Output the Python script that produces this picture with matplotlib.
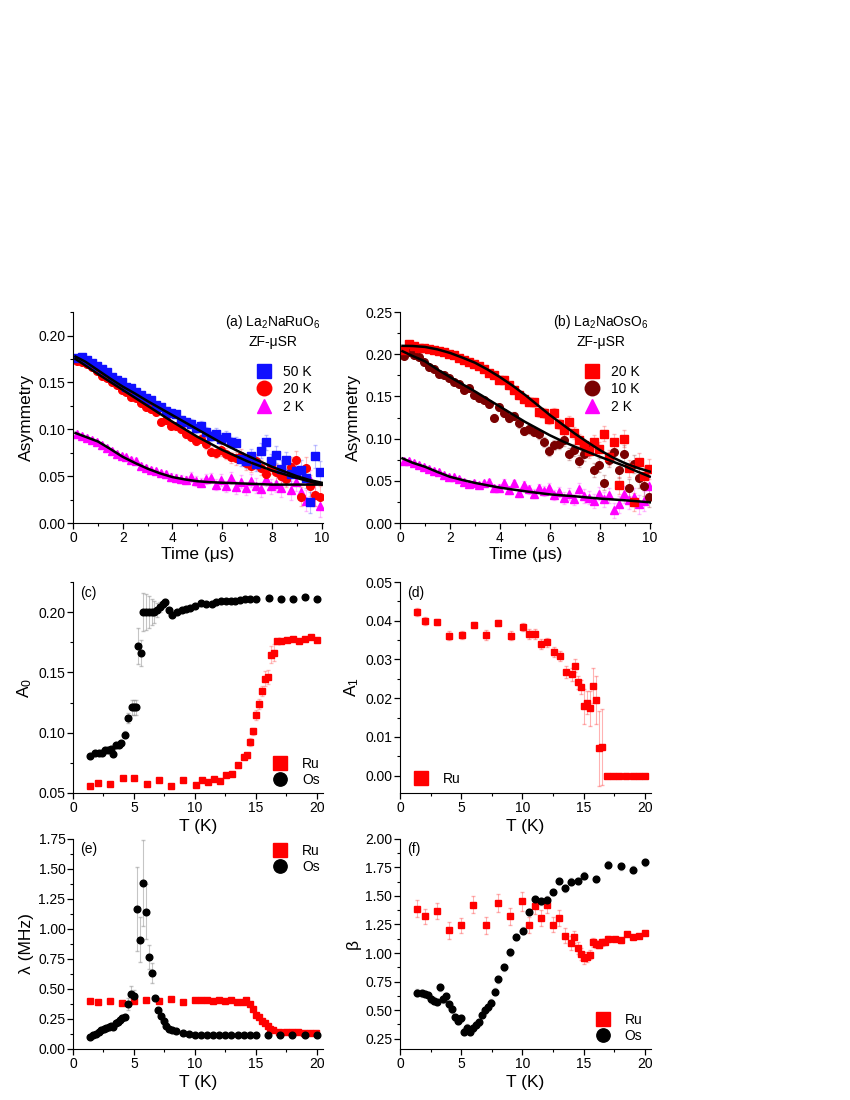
import matplotlib
matplotlib.use("Agg")
import matplotlib.pyplot as plt
from matplotlib.ticker import MultipleLocator, FormatStrFormatter

plt.rcParams['font.family'] = ['Liberation Sans', 'DejaVu Sans']
plt.rcParams['mathtext.default'] = 'regular'

# ---- (a), (b): ZF-muSR asymmetry spectra ----
t = [0.15, 0.35, 0.55, 0.75, 0.95, 1.15, 1.35, 1.55, 1.75, 1.95,
     2.15, 2.35, 2.55, 2.75, 2.95, 3.15, 3.35, 3.55, 3.75, 3.95,
     4.15, 4.35, 4.55, 4.75, 4.95, 5.15, 5.35, 5.55, 5.75, 5.95,
     6.15, 6.35, 6.55, 6.75, 6.95, 7.15, 7.35, 7.55, 7.75, 7.95,
     8.15, 8.35, 8.55, 8.75, 8.95, 9.15, 9.35, 9.55, 9.75, 9.95]
err_t = [0.002, 0.002, 0.002, 0.002, 0.002, 0.002, 0.002, 0.002, 0.002, 0.002,
         0.002, 0.003, 0.003, 0.003, 0.003, 0.003, 0.003, 0.003, 0.004, 0.004,
         0.004, 0.004, 0.004, 0.005, 0.005, 0.005, 0.005, 0.005, 0.006, 0.006,
         0.006, 0.006, 0.007, 0.007, 0.007, 0.007, 0.008, 0.008, 0.008, 0.008,
         0.009, 0.009, 0.009, 0.010, 0.010, 0.010, 0.011, 0.011, 0.012, 0.012]

ru_50K = [0.176, 0.177, 0.174, 0.171, 0.168, 0.164, 0.161, 0.156, 0.153, 0.150,
          0.145, 0.144, 0.140, 0.137, 0.133, 0.131, 0.126, 0.124, 0.120, 0.117,
          0.116, 0.110, 0.108, 0.106, 0.101, 0.104, 0.097, 0.093, 0.095, 0.090,
          0.092, 0.086, 0.085, 0.068, 0.066, 0.072, 0.063, 0.077, 0.086, 0.066,
          0.073, 0.058, 0.067, 0.052, 0.055, 0.057, 0.048, 0.022, 0.071, 0.054]
ru_20K = [0.173, 0.172, 0.170, 0.166, 0.162, 0.157, 0.155, 0.150, 0.147, 0.142,
          0.140, 0.134, 0.133, 0.128, 0.124, 0.122, 0.118, 0.108, 0.110, 0.104,
          0.103, 0.100, 0.095, 0.092, 0.088, 0.090, 0.084, 0.076, 0.075, 0.078,
          0.074, 0.070, 0.069, 0.072, 0.064, 0.061, 0.066, 0.059, 0.052, 0.060,
          0.054, 0.050, 0.047, 0.060, 0.067, 0.028, 0.059, 0.040, 0.030, 0.028]
ru_2K = [0.095, 0.093, 0.091, 0.089, 0.086, 0.083, 0.080, 0.077, 0.074, 0.072,
         0.070, 0.067, 0.066, 0.061, 0.059, 0.057, 0.055, 0.053, 0.052, 0.049,
         0.048, 0.047, 0.046, 0.049, 0.045, 0.043, 0.047, 0.048, 0.041, 0.046,
         0.039, 0.048, 0.038, 0.044, 0.037, 0.045, 0.040, 0.036, 0.047, 0.039,
         0.042, 0.037, 0.049, 0.035, 0.044, 0.033, 0.024, 0.046, 0.030, 0.018]

os_20K = [0.205, 0.212, 0.210, 0.208, 0.207, 0.206, 0.205, 0.204, 0.203, 0.200,
          0.199, 0.196, 0.193, 0.191, 0.189, 0.186, 0.182, 0.178, 0.176, 0.170,
          0.170, 0.163, 0.158, 0.152, 0.147, 0.144, 0.143, 0.131, 0.130, 0.123,
          0.130, 0.117, 0.110, 0.120, 0.107, 0.098, 0.092, 0.085, 0.096, 0.088,
          0.106, 0.078, 0.096, 0.045, 0.100, 0.065, 0.025, 0.072, 0.056, 0.064]
os_10K = [0.198, 0.203, 0.199, 0.197, 0.191, 0.185, 0.183, 0.177, 0.176, 0.172,
          0.167, 0.165, 0.158, 0.160, 0.152, 0.148, 0.146, 0.141, 0.125, 0.137,
          0.130, 0.124, 0.127, 0.118, 0.109, 0.111, 0.108, 0.105, 0.096, 0.085,
          0.092, 0.094, 0.098, 0.082, 0.087, 0.074, 0.082, 0.088, 0.063, 0.069,
          0.048, 0.075, 0.084, 0.063, 0.082, 0.042, 0.070, 0.053, 0.044, 0.031]
os_2K = [0.074, 0.073, 0.071, 0.069, 0.067, 0.064, 0.062, 0.060, 0.057, 0.055,
         0.054, 0.052, 0.049, 0.046, 0.048, 0.045, 0.047, 0.049, 0.041, 0.042,
         0.048, 0.039, 0.047, 0.036, 0.045, 0.040, 0.035, 0.041, 0.038, 0.042,
         0.033, 0.037, 0.030, 0.034, 0.028, 0.040, 0.032, 0.030, 0.026, 0.035,
         0.028, 0.033, 0.015, 0.022, 0.034, 0.027, 0.031, 0.022, 0.026, 0.044]

# fitted curves
t_fit = [0.1, 0.5, 1, 1.5, 2, 2.5, 3, 3.5, 4, 4.5, 5, 5.5, 6, 6.5, 7, 7.5, 8, 8.5, 9, 9.5, 10]
fit_ru_50K = [0.1775, 0.172, 0.163, 0.154, 0.1455, 0.138, 0.130, 0.1225, 0.115, 0.1075, 0.100,
              0.0925, 0.085, 0.0785, 0.072, 0.066, 0.060, 0.055, 0.050, 0.046, 0.043]
fit_ru_20K = [0.175, 0.168, 0.159, 0.1505, 0.142, 0.1335, 0.125, 0.1165, 0.108, 0.100, 0.092,
              0.085, 0.078, 0.072, 0.066, 0.061, 0.056, 0.052, 0.048, 0.0445, 0.041]
fit_ru_2K = [0.096, 0.092, 0.087, 0.079, 0.0706, 0.064, 0.058, 0.053, 0.049, 0.0465, 0.0446,
             0.0436, 0.043, 0.0425, 0.042, 0.0415, 0.041, 0.041, 0.041, 0.041, 0.041]
fit_os_20K = [0.210, 0.2098, 0.2087, 0.2058, 0.2016, 0.196, 0.190, 0.182, 0.173, 0.163, 0.152,
              0.140, 0.128, 0.117, 0.106, 0.096, 0.0865, 0.078, 0.071, 0.0655, 0.061]
fit_os_10K = [0.2036, 0.198, 0.1917, 0.182, 0.173, 0.1645, 0.156, 0.147, 0.138, 0.129, 0.120,
              0.112, 0.104, 0.097, 0.0905, 0.0845, 0.0786, 0.073, 0.0675, 0.061, 0.055]
fit_os_2K = [0.0766, 0.0715, 0.0667, 0.0605, 0.0548, 0.051, 0.0476, 0.0447, 0.042, 0.0398, 0.0377,
             0.0358, 0.034, 0.0328, 0.0317, 0.0303, 0.029, 0.028, 0.027, 0.0258, 0.0246]

# ---- (c)-(f): fit parameters vs temperature ----
T_os = [1.42, 1.8, 2.15, 2.37, 2.6, 2.86, 3.08, 3.32, 3.54, 3.79, 3.95, 4.3, 4.55, 4.82, 5.0,
        5.18, 5.29, 5.56, 5.72, 5.97, 6.2, 6.46, 6.68, 6.92, 7.14, 7.36, 7.57, 7.87, 8.12, 8.5,
        8.9, 9.24, 9.59, 10.0, 10.5, 10.95, 11.4, 11.77, 12.13, 12.53, 12.94, 13.32, 13.73,
        14.1, 14.55, 15.04, 16.08, 17.03, 18.04, 19.0, 20.0]
A0_os = [0.0807, 0.0835, 0.0835, 0.0835, 0.0854, 0.0854, 0.0862, 0.082, 0.0896, 0.0896,
         0.0915, 0.0984, 0.112, 0.121, 0.121, 0.121, 0.172, 0.166, 0.200, 0.200, 0.200, 0.200,
         0.200, 0.2017, 0.2045, 0.2066, 0.2085, 0.2017, 0.198, 0.200, 0.2017, 0.2025, 0.2035,
         0.205, 0.208, 0.207, 0.207, 0.2085, 0.209, 0.209, 0.209, 0.209, 0.210, 0.2107,
         0.2107, 0.2113, 0.212, 0.2105, 0.2105, 0.2127, 0.2105]
A0_os_err = [0.001, 0.001, 0.001, 0.001, 0.001, 0.001, 0.001, 0.001, 0.001, 0.001,
             0.001, 0.003, 0.004, 0.006, 0.006, 0.006, 0.015, 0.011, 0.016, 0.015, 0.013,
             0.011, 0.009, 0.006, 0.004, 0.003, 0.002, 0.002, 0.001, 0.001, 0.001, 0.001, 0.001,
             0.001, 0.001, 0.001, 0.001, 0.001, 0.001, 0.001, 0.001, 0.001, 0.001, 0.001,
             0.001, 0.001, 0.001, 0.001, 0.001, 0.001, 0.001]

T_ru_c = [1.42, 2.04, 3.05, 4.06, 5.04, 6.05, 7.06, 8.04, 9.05, 10.05, 10.55, 11.04, 11.53,
          12.04, 12.53, 13.05, 13.54, 14.03, 14.28, 14.55, 14.77, 15.04, 15.29, 15.53, 15.78,
          16.02, 16.27, 16.5, 16.76, 17.08, 17.57, 18.04, 18.53, 19.05, 19.54, 20.03]
A0_ru = [0.0555, 0.0583, 0.0577, 0.0625, 0.0625, 0.0577, 0.0611, 0.0561, 0.0605, 0.0569,
         0.0605, 0.0589, 0.0613, 0.0597, 0.0652, 0.0655, 0.073, 0.080, 0.0813, 0.0923, 0.1012,
         0.1145, 0.1236, 0.1344, 0.1449, 0.1463, 0.1648, 0.1665, 0.1759, 0.1759, 0.1767,
         0.1776, 0.1762, 0.1778, 0.179, 0.1767]
A0_ru_err = [0.001, 0.001, 0.001, 0.001, 0.001, 0.001, 0.001, 0.001, 0.001, 0.001,
             0.001, 0.001, 0.001, 0.001, 0.001, 0.001, 0.002, 0.002, 0.002, 0.003, 0.003,
             0.004, 0.004, 0.004, 0.006, 0.006, 0.007, 0.007, 0.002, 0.001, 0.001,
             0.001, 0.001, 0.001, 0.001, 0.001]

T_ru_d = [1.42, 2.05, 3.03, 4.04, 5.03, 6.04, 7.02, 8.03, 9.04, 10.03, 10.55, 11.04, 11.53,
          12.02, 12.54, 13.03, 13.52, 14.04, 14.29, 14.54, 14.78, 15.03, 15.27, 15.52, 15.79,
          16.04, 16.28, 16.53, 16.9, 17.4, 17.9, 18.45, 19.0, 19.5, 20.0]
A1_ru = [0.0422, 0.0399, 0.0396, 0.0361, 0.0364, 0.0388, 0.0363, 0.0395, 0.0361, 0.0383,
         0.0366, 0.0366, 0.034, 0.0344, 0.0318, 0.0309, 0.0268, 0.0262, 0.0284, 0.0241,
         0.023, 0.0179, 0.0188, 0.0174, 0.0232, 0.0195, 0.007, 0.0074, 0.0, 0.0, 0.0, 0.0,
         0.0, 0.0, 0.0]
A1_ru_err = [0.001, 0.001, 0.0008, 0.0012, 0.001, 0.0008, 0.0012, 0.0008, 0.0012, 0.001,
             0.0012, 0.0012, 0.0013, 0.0012, 0.0013, 0.0013, 0.0015, 0.0017, 0.0017, 0.0017,
             0.0018, 0.0045, 0.003, 0.0045, 0.0045, 0.0063, 0.0098, 0.0098, 0.0, 0.0, 0.0,
             0.0, 0.0, 0.0, 0.0]

T_os_e = [1.41, 1.68, 1.9, 2.12, 2.33, 2.55, 2.71, 2.93, 3.12, 3.31, 3.5, 3.69, 3.85, 4.04,
          4.26, 4.53, 4.75, 5.02, 5.24, 5.48, 5.78, 6.02, 6.27, 6.51, 6.7, 7.0, 7.22, 7.44,
          7.65, 7.87, 8.09, 8.47, 9.0, 9.5, 10.0, 10.5, 11.0, 11.5, 12.0, 12.5, 13.0, 13.5,
          14.0, 14.5, 15.0, 16.0, 17.0, 18.0, 19.0, 20.0]
lam_os = [0.097, 0.114, 0.125, 0.139, 0.156, 0.169, 0.178, 0.183, 0.189, 0.181, 0.217, 0.228,
          0.242, 0.256, 0.269, 0.378, 0.458, 0.444, 1.167, 0.911, 1.383, 1.142, 0.767, 0.633,
          0.422, 0.328, 0.278, 0.236, 0.194, 0.167, 0.156, 0.147, 0.133, 0.125, 0.119, 0.118,
          0.118, 0.118, 0.118, 0.118, 0.118, 0.118, 0.118, 0.118, 0.118, 0.117, 0.117, 0.117,
          0.117, 0.117]
lam_os_err = [0.005, 0.005, 0.005, 0.005, 0.005, 0.005, 0.005, 0.005, 0.005, 0.005, 0.005,
              0.005, 0.005, 0.005, 0.008, 0.05, 0.065, 0.05, 0.35, 0.19, 0.36, 0.23, 0.1, 0.08,
              0.02, 0.01, 0.005, 0.005, 0.005, 0.005, 0.005, 0.005, 0.005, 0.005, 0.005, 0.005,
              0.005, 0.005, 0.005, 0.005, 0.005, 0.005, 0.005, 0.005, 0.005, 0.005, 0.005,
              0.005, 0.005, 0.005]

T_ru_e = [1.41, 2.04, 3.04, 4.04, 5.02, 6.02, 7.03, 8.0, 9.0, 10.0, 10.5, 11.0, 11.48, 12.0,
          12.48, 13.0, 13.49, 13.98, 14.22, 14.49, 14.73, 14.98, 15.22, 15.47, 15.71, 15.96,
          16.2, 16.44, 16.93, 17.48, 17.96, 18.45, 18.97, 19.46, 19.97]
lam_ru = [0.400, 0.394, 0.403, 0.383, 0.400, 0.406, 0.400, 0.417, 0.389, 0.406, 0.406, 0.408,
          0.397, 0.408, 0.403, 0.408, 0.389, 0.394, 0.408, 0.375, 0.336, 0.283, 0.269, 0.236,
          0.219, 0.189, 0.167, 0.156, 0.144, 0.142, 0.139, 0.142, 0.136, 0.136, 0.136]

T_os_f = [1.42, 1.77, 2.07, 2.29, 2.54, 2.76, 3.0, 3.25, 3.49, 3.77, 4.04, 4.28, 4.5, 4.72,
          4.97, 5.24, 5.48, 5.73, 5.95, 6.19, 6.44, 6.68, 6.93, 7.18, 7.42, 7.72, 7.99, 8.49,
          9.0, 9.49, 10.01, 10.5, 11.0, 11.49, 11.99, 12.52, 12.99, 13.51, 14.0, 14.52, 15.0,
          16.02, 17.0, 18.01, 19.02, 20.0]
beta_os = [0.653, 0.647, 0.641, 0.632, 0.594, 0.583, 0.571, 0.700, 0.594, 0.623, 0.553,
           0.506, 0.436, 0.407, 0.427, 0.311, 0.346, 0.311, 0.340, 0.373, 0.393, 0.457, 0.500,
           0.524, 0.565, 0.662, 0.770, 0.876, 1.005, 1.140, 1.195, 1.359, 1.473, 1.452, 1.467,
           1.534, 1.631, 1.566, 1.625, 1.631, 1.678, 1.649, 1.775, 1.760, 1.728, 1.795]

T_ru_f = [1.42, 2.02, 3.03, 4.01, 5.0, 6.0, 7.01, 8.0, 9.0, 9.99, 10.53, 11.0, 11.51, 12.0,
          12.52, 12.99, 13.51, 14.0, 14.24, 14.52, 14.76, 15.0, 15.25, 15.5, 15.77, 16.02,
          16.26, 16.51, 16.75, 17.0, 17.52, 18.01, 18.5, 19.02, 19.51, 20.0]
beta_ru = [1.388, 1.321, 1.365, 1.198, 1.242, 1.423, 1.242, 1.438, 1.321, 1.452, 1.248,
           1.409, 1.306, 1.417, 1.248, 1.306, 1.151, 1.087, 1.140, 1.043, 0.993, 0.955, 0.965,
           0.984, 1.093, 1.081, 1.072, 1.093, 1.093, 1.122, 1.122, 1.110, 1.169, 1.137, 1.151,
           1.175]
beta_ru_err = [0.075, 0.065, 0.07, 0.075, 0.065, 0.075, 0.075, 0.08, 0.075, 0.08, 0.07,
               0.07, 0.07, 0.07, 0.065, 0.07, 0.065, 0.06, 0.05, 0.05, 0.05, 0.05, 0.04,
               0.04, 0.04, 0.035, 0.03, 0.03, 0.025, 0.025, 0.02, 0.02, 0.015, 0.015, 0.015,
               0.015]

RED = '#ff0000'
BLUE = '#1010ff'
MAG = '#ff00ff'
DRED = '#7a0000'

TICK_FS = 10
LABEL_FS = 12.5
TEXT_FS = 10

fig = plt.figure(figsize=(8.5, 11), dpi=100)


def style(ax, xmaj, xmin, ymaj, ymin, yfmt):
    for s in ['top', 'right']:
        ax.spines[s].set_visible(False)
    ax.xaxis.set_major_locator(MultipleLocator(xmaj))
    ax.xaxis.set_minor_locator(MultipleLocator(xmin))
    ax.yaxis.set_major_locator(MultipleLocator(ymaj))
    ax.yaxis.set_minor_locator(MultipleLocator(ymin))
    ax.yaxis.set_major_formatter(FormatStrFormatter(yfmt))
    ax.tick_params(which='major', direction='out', length=4, width=0.9, labelsize=TICK_FS, pad=1.5)
    ax.tick_params(which='minor', direction='out', length=2.5, width=0.8)
    ax.tick_params(top=False, right=False, which='both')


ax_a = fig.add_axes([0.0859, 0.5245, 0.294, 0.1918])
ax_b = fig.add_axes([0.4706, 0.5245, 0.2953, 0.1918])
ax_c = fig.add_axes([0.0859, 0.2791, 0.294, 0.1918])
ax_d = fig.add_axes([0.4706, 0.2791, 0.2953, 0.1918])
ax_e = fig.add_axes([0.0859, 0.0464, 0.294, 0.191])
ax_f = fig.add_axes([0.4706, 0.0464, 0.2953, 0.191])


def spectra_legend(ax):
    h, l = ax.get_legend_handles_labels()
    ax.legend(h[::-1], l[::-1], loc='upper left', bbox_to_anchor=(0.74, 0.75), frameon=False,
              fontsize=TEXT_FS, markerscale=1.9, handlelength=0.9, handletextpad=0.9,
              labelspacing=0.25, borderaxespad=0, borderpad=0)


# (a)
series_a = [(ru_2K, MAG, '^', '2 K'), (ru_20K, RED, 'o', '20 K'), (ru_50K, BLUE, 's', '50 K')]
for y, c, m, lab in series_a:
    ax_a.errorbar(t, y, yerr=err_t, fmt='none', ecolor=c, alpha=0.25, elinewidth=0.8, capsize=1.5)
for y, c, m, lab in series_a:
    ax_a.plot(t, y, m, color=c, ms=5.5, mec=c, ls='none', label=lab)
for f in [fit_ru_50K, fit_ru_20K, fit_ru_2K]:
    ax_a.plot(t_fit, f, '-', color='black', lw=1.8)
ax_a.set_xlim(0, 10.05)
ax_a.set_ylim(0, 0.225)
style(ax_a, 2, 1, 0.05, 0.025, '%.2f')
ax_a.set_xlabel('Time (μs)', fontsize=LABEL_FS, labelpad=2)
ax_a.set_ylabel('Asymmetry', fontsize=LABEL_FS, labelpad=3)
ax_a.text(0.99, 0.955, '(a) La$_2$NaRuO$_6$', transform=ax_a.transAxes, ha='right', va='center', fontsize=TEXT_FS)
ax_a.text(0.80, 0.86, 'ZF-μSR', transform=ax_a.transAxes, ha='center', va='center', fontsize=TEXT_FS)
spectra_legend(ax_a)

# (b)
series_b = [(os_2K, MAG, '^', '2 K'), (os_10K, DRED, 'o', '10 K'), (os_20K, RED, 's', '20 K')]
for y, c, m, lab in series_b:
    ax_b.errorbar(t, y, yerr=err_t, fmt='none', ecolor=c, alpha=0.25, elinewidth=0.8, capsize=1.5)
for y, c, m, lab in series_b:
    ax_b.plot(t, y, m, color=c, ms=5.5, mec=c, ls='none', label=lab)
for f in [fit_os_20K, fit_os_10K, fit_os_2K]:
    ax_b.plot(t_fit, f, '-', color='black', lw=1.8)
ax_b.set_xlim(0, 10.05)
ax_b.set_ylim(0, 0.25)
style(ax_b, 2, 1, 0.05, 0.025, '%.2f')
ax_b.set_xlabel('Time (μs)', fontsize=LABEL_FS, labelpad=2)
ax_b.set_ylabel('Asymmetry', fontsize=LABEL_FS, labelpad=3)
ax_b.text(0.99, 0.955, '(b) La$_2$NaOsO$_6$', transform=ax_b.transAxes, ha='right', va='center', fontsize=TEXT_FS)
ax_b.text(0.80, 0.86, 'ZF-μSR', transform=ax_b.transAxes, ha='center', va='center', fontsize=TEXT_FS)
spectra_legend(ax_b)


def leg(ax, loc, anchor):
    ax.legend(loc=loc, bbox_to_anchor=anchor, frameon=False, fontsize=TEXT_FS, markerscale=2.0,
              handlelength=0.9, handletextpad=1.1, labelspacing=0.15, borderaxespad=0, borderpad=0)


# (c)
ax_c.errorbar(T_ru_c, A0_ru, yerr=A0_ru_err, fmt='none', ecolor=RED, alpha=0.25, elinewidth=0.8, capsize=1.5)
ax_c.errorbar(T_os, A0_os, yerr=A0_os_err, fmt='none', ecolor='gray', alpha=0.45, elinewidth=0.8, capsize=1.5)
ax_c.plot(T_ru_c, A0_ru, 's', color=RED, ms=4.8, ls='none', label='Ru')
ax_c.plot(T_os, A0_os, 'o', color='black', ms=4.8, ls='none', label='Os')
ax_c.set_xlim(0, 20.5)
ax_c.set_ylim(0.05, 0.225)
style(ax_c, 5, 2.5, 0.05, 0.025, '%.2f')
ax_c.set_xlabel('T (K)', fontsize=LABEL_FS, labelpad=3)
ax_c.set_ylabel('A$_0$', fontsize=LABEL_FS, labelpad=3)
ax_c.text(0.03, 0.95, '(c)', transform=ax_c.transAxes, ha='left', va='center', fontsize=TEXT_FS)
leg(ax_c, 'lower left', (0.805, 0.03))

# (d)
ax_d.errorbar(T_ru_d, A1_ru, yerr=A1_ru_err, fmt='none', ecolor=RED, alpha=0.3, elinewidth=0.8, capsize=1.5)
ax_d.plot(T_ru_d, A1_ru, 's', color=RED, ms=4.8, ls='none', label='Ru')
ax_d.set_xlim(0, 20.5)
ax_d.set_ylim(-0.0045, 0.05)
style(ax_d, 5, 2.5, 0.01, 0.005, '%.2f')
ax_d.set_xlabel('T (K)', fontsize=LABEL_FS, labelpad=3)
ax_d.set_ylabel('A$_1$', fontsize=LABEL_FS, labelpad=3)
ax_d.text(0.03, 0.95, '(d)', transform=ax_d.transAxes, ha='left', va='center', fontsize=TEXT_FS)
leg(ax_d, 'lower left', (0.06, 0.035))

# (e)
ax_e.errorbar(T_os_e, lam_os, yerr=lam_os_err, fmt='none', ecolor='gray', alpha=0.45, elinewidth=0.8, capsize=1.5)
ax_e.plot(T_ru_e, lam_ru, 's', color=RED, ms=4.8, ls='none', label='Ru')
ax_e.plot(T_os_e, lam_os, 'o', color='black', ms=4.8, ls='none', label='Os')
ax_e.set_xlim(0, 20.5)
ax_e.set_ylim(0, 1.75)
style(ax_e, 5, 2.5, 0.25, 0.125, '%.2f')
ax_e.set_xlabel('T (K)', fontsize=LABEL_FS, labelpad=3)
ax_e.set_ylabel('λ (MHz)', fontsize=LABEL_FS, labelpad=3)
ax_e.text(0.03, 0.95, '(e)', transform=ax_e.transAxes, ha='left', va='center', fontsize=TEXT_FS)
leg(ax_e, 'upper left', (0.805, 0.975))

# (f)
ax_f.errorbar(T_ru_f, beta_ru, yerr=beta_ru_err, fmt='none', ecolor=RED, alpha=0.3, elinewidth=0.8, capsize=1.5)
ax_f.errorbar(T_os_f, beta_os, yerr=0.03, fmt='none', ecolor='gray', alpha=0.45, elinewidth=0.8, capsize=1.5)
ax_f.plot(T_ru_f, beta_ru, 's', color=RED, ms=4.8, ls='none', label='Ru')
ax_f.plot(T_os_f, beta_os, 'o', color='black', ms=4.8, ls='none', label='Os')
ax_f.set_xlim(0, 20.5)
ax_f.set_ylim(0.16, 2.0)
style(ax_f, 5, 2.5, 0.25, 0.125, '%.2f')
ax_f.set_xlabel('T (K)', fontsize=LABEL_FS, labelpad=3)
ax_f.set_ylabel('β', fontsize=LABEL_FS, labelpad=3)
ax_f.text(0.03, 0.95, '(f)', transform=ax_f.transAxes, ha='left', va='center', fontsize=TEXT_FS)
leg(ax_f, 'lower left', (0.785, 0.03))

fig.savefig('out.png', dpi=100)
